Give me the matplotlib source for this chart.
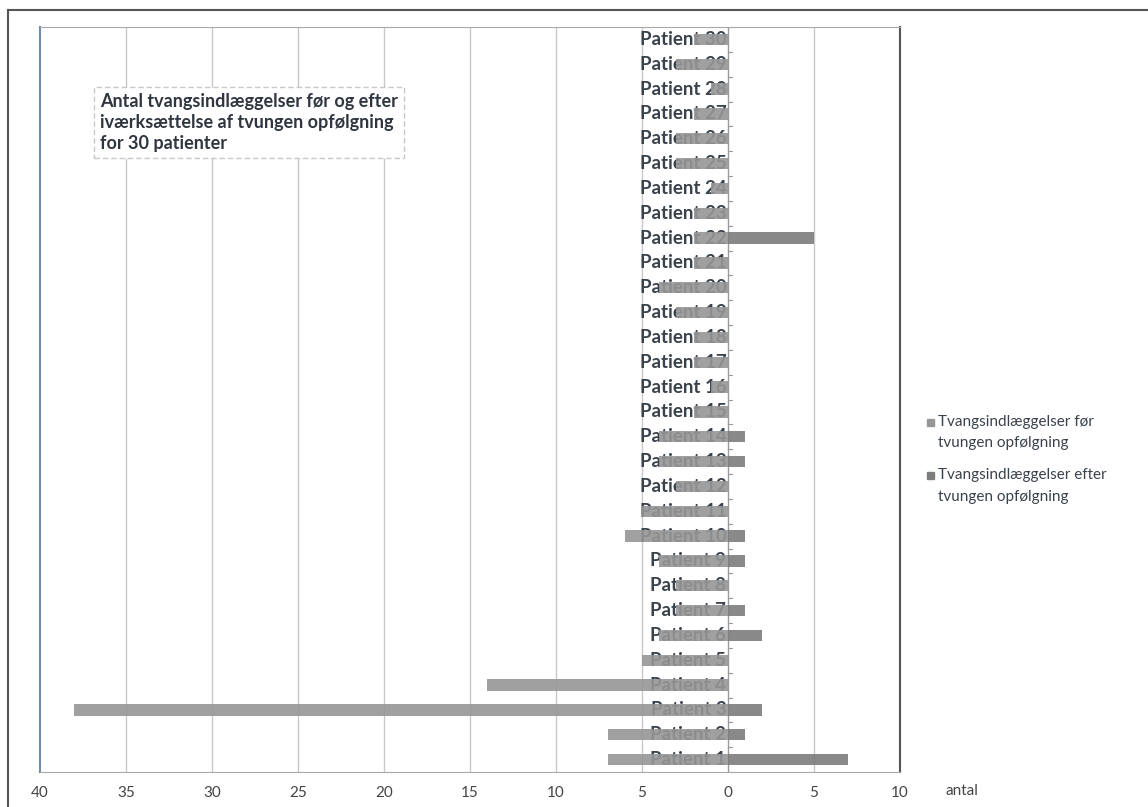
import matplotlib.pyplot as plt
from matplotlib.patches import Rectangle
from matplotlib.lines import Line2D

plt.rcParams['font.family'] = ['Lato', 'DejaVu Sans']

patients = [f"Patient {i}" for i in range(1, 31)]
# antal tvangsindlæggelser pr. patient
foer = [7, 7, 38, 14, 5, 4, 3, 3, 4, 6, 5, 3, 4, 4, 2, 1, 2, 2, 3, 4,
        2, 2, 2, 1, 3, 3, 2, 1, 3, 2]
efter = [7, 1, 2, 0, 0, 2, 1, 0, 1, 1, 0, 0, 1, 1, 0, 0, 0, 0, 0, 0,
         0, 5, 0, 0, 0, 0, 0, 0, 0, 0]
xticks = [-40, -35, -30, -25, -20, -15, -10, -5, 0, 5, 10]

label_foer = ["Tvangsindlæggelser før", "tvungen opfølgning"]
label_efter = ["Tvangsindlæggelser efter", "tvungen opfølgning"]
title = ("Antal tvangsindlæggelser før og efter\n"
         "iværksættelse af tvungen opfølgning\n"
         "for 30 patienter")

txt = '#3a424c'
c_foer = '#969696'
c_efter = '#7c7c7c'

fig = plt.figure(figsize=(11.48, 8.07), dpi=100)
ax = fig.add_axes([40 / 1148, 1 - 772 / 807, 860 / 1148, 745 / 807])

y = list(range(len(patients)))
ax.barh(y, [-v for v in foer], height=0.45, color=c_foer, alpha=0.9, zorder=3)
ax.barh(y, efter, height=0.45, color=c_efter, alpha=0.9, zorder=3)

ax.set_xlim(-40, 10)
ax.set_ylim(-0.5, len(patients) - 0.5)

# lodrette gitterlinjer, men ikke ved 0 (akselinjen)
for gx in xticks[1:-1]:
    if gx != 0:
        ax.axvline(gx, color='#c8c8c8', lw=1, zorder=1)
ax.axvline(0, color='#9a9a9a', lw=1, zorder=2)
for k in range(len(patients) + 1):
    ax.plot([0, 0.25], [k - 0.5, k - 0.5], color='#9a9a9a', lw=0.8, zorder=2)

# patientnavne ved nul-aksen, under søjlerne
for i, name in enumerate(patients):
    ax.text(-0.1, i, name, ha='right', va='center', fontsize=13.5,
            fontweight='bold', color=txt, zorder=2.5)

ax.set_yticks([])
ax.set_xticks(xticks)
ax.set_xticklabels([str(abs(v)) for v in xticks], fontsize=11, color='#444444')
ax.tick_params(axis='x', length=0, pad=10)
for side in ['top', 'bottom']:
    ax.spines[side].set_color('#a8a8a8')
ax.spines['left'].set_color('#6f8cab')
ax.spines['left'].set_linewidth(1.5)
ax.spines['right'].set_color('#555555')
ax.spines['right'].set_linewidth(1.5)

fig.text(945 / 1148, 1 - 791 / 807, "antal", fontsize=11, color='#444444',
         va='center')

ax.text(60 / 860, 1 - 66 / 745, title, transform=ax.transAxes, fontsize=13,
        fontweight='bold', color='#2f3640', va='top', linespacing=1.28,
        zorder=6,
        bbox=dict(boxstyle='square,pad=0.35', fc='white', ec='#c8c8c8',
                  lw=1, ls=(0, (4, 2))))

# forklaring til højre for plotområdet
for lines, col, ytop in [(label_foer, c_foer, 422), (label_efter, c_efter, 475)]:
    fig.add_artist(Rectangle((927 / 1148, 1 - (ytop + 4) / 807),
                             7 / 1148, 7 / 807, transform=fig.transFigure,
                             color=col))
    for j, line in enumerate(lines):
        fig.text(938 / 1148, 1 - (ytop + 21.5 * j) / 807, line, fontsize=11,
                 color=txt, va='center')

# ydre ramme
fig.add_artist(Line2D([8 / 1148, 1], [1 - 10 / 807, 1 - 10 / 807],
                      transform=fig.transFigure, color='#555555', lw=1.5))
fig.add_artist(Line2D([8 / 1148, 8 / 1148], [0, 1 - 10 / 807],
                      transform=fig.transFigure, color='#555555', lw=1.5))

fig.savefig('out.png', dpi=100)
